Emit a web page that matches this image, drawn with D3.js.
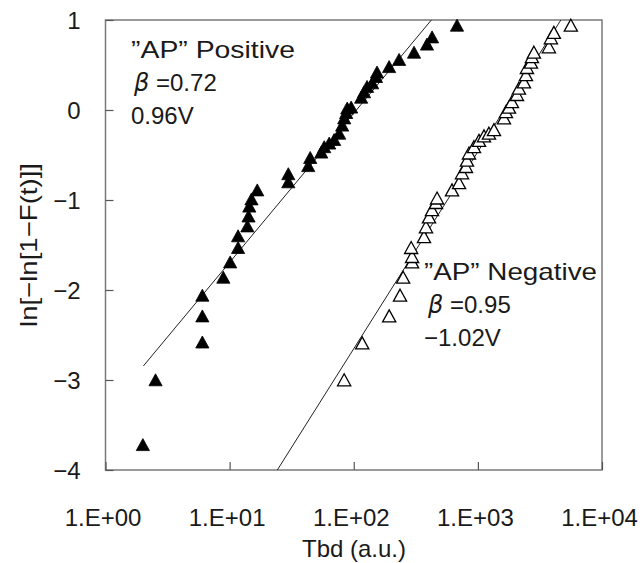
<!DOCTYPE html>
<html>
<head>
<meta charset="utf-8">
<script src="https://cdn.jsdelivr.net/npm/d3@7"></script>
<style>
  html, body { margin: 0; padding: 0; background: #fff; }
  svg text { font-family: "Liberation Sans", Arial, sans-serif; fill: #1a1a1a; }
</style>
</head>
<body>
<svg id="chart" width="643" height="563"></svg>
<script>
// ---------- data ----------
const xTickValues = [1, 10, 100, 1000, 10000];
const xTickLabels = ["1.E+00", "1.E+01", "1.E+02", "1.E+03", "1.E+04"];
const yTickValues = [-4, -3, -2, -1, 0, 1];
const yTickLabels = ["\u22124", "\u22123", "\u22122", "\u22121", "0", "1"];

// "AP" Positive (filled triangles): Tbd, ln[-ln(1-F)]
const posT = [2.0, 2.53, 6.03, 6.03, 6.03, 8.9, 10.1, 11.7, 11.7, 13.9, 14.2, 14.4, 15.0, 16.7,
  29.7, 29.7, 43, 44.6, 54.7, 57.8, 63.4, 69.5, 76.3, 80.7, 83.8, 86.9, 88.6, 95.3,
  114.7, 121, 128, 140.6, 151, 154, 192.7, 231.9, 306, 389, 427.6, 679];
const posY = [-3.72, -3.0, -2.58, -2.29, -2.06, -1.86, -1.69, -1.53, -1.40, -1.29, -1.18, -1.07, -0.99, -0.89,
  -0.80, -0.71, -0.62, -0.53, -0.47, -0.41, -0.37, -0.33, -0.26, -0.17, -0.09, -0.03, 0.02, 0.03,
  0.14, 0.20, 0.26, 0.30, 0.37, 0.42, 0.48, 0.56, 0.64, 0.73, 0.81, 0.94];

// "AP" Negative (open triangles)
const negT = [83.7, 117, 193, 236, 250, 295, 295, 290, 368, 382, 404, 427, 460, 469,
  619, 705, 745, 802, 817, 848, 930, 1021, 1120, 1228, 1348, 1622, 1683, 1780, 1880,
  2064, 2142, 2350, 2439, 2484, 2675, 2725, 2827, 3733, 3874, 4094, 5610];
const negY = [-3.00, -2.59, -2.29, -2.06, -1.86, -1.69, -1.63, -1.53, -1.41, -1.30, -1.19, -1.11, -1.03, -0.98,
  -0.89, -0.81, -0.70, -0.63, -0.56, -0.48, -0.41, -0.34, -0.29, -0.26, -0.22, -0.09, -0.02, 0.03, 0.09,
  0.17, 0.24, 0.31, 0.39, 0.47, 0.53, 0.59, 0.64, 0.70, 0.80, 0.86, 0.94];

// fitted lines: y = a + b*log10(t), t from tStart to where y reaches top
const fitPos = { a: -3.35, b: 1.657, tStart: 2.02 };
const fitNeg = { a: -7.03, b: 2.189, tStart: null };

// ---------- layout ----------
const svg = d3.select("#chart");
const L = 105.5, R = 602, T = 20, B = 470;
const x = d3.scaleLog().domain([1, 10000]).range([L, R]);
const y = d3.scaleLinear().domain([-4, 1]).range([B, T]);

// frame
svg.append("rect").attr("x", L).attr("y", T).attr("width", R - L).attr("height", B - T)
  .attr("fill", "none").attr("stroke", "#7a7a7a").attr("stroke-width", 1.5);

// axes
const xAxis = d3.axisBottom(x).tickValues(xTickValues)
  .tickFormat((d, i) => xTickLabels[i]).tickSize(-8).tickPadding(39);
const gx = svg.append("g").attr("transform", `translate(0,${B})`).call(xAxis);
gx.select(".domain").remove();
gx.selectAll(".tick line").attr("stroke", "#555").attr("stroke-width", 1.2);
gx.selectAll(".tick text").attr("font-size", 24).attr("fill", "#1a1a1a")
  .attr("font-family", "Liberation Sans, Arial, sans-serif").attr("dx", -3);

const yAxis = d3.axisLeft(y).tickValues(yTickValues)
  .tickFormat((d, i) => yTickLabels[i]).tickSize(-8).tickPadding(25);
const gy = svg.append("g").attr("transform", `translate(${L},0)`).call(yAxis);
gy.select(".domain").remove();
gy.selectAll(".tick line").attr("stroke", "#555").attr("stroke-width", 1.2);
gy.selectAll(".tick text").attr("font-size", 24).attr("fill", "#1a1a1a")
  .attr("font-family", "Liberation Sans, Arial, sans-serif").attr("dy", "0.36em");

// axis titles
svg.append("text").attr("x", 354).attr("y", 557).attr("text-anchor", "middle")
  .attr("font-size", 24).text("Tbd (a.u.)");
svg.append("text").attr("transform", "translate(28,245) rotate(-90)")
  .attr("text-anchor", "middle").attr("dominant-baseline", "central")
  .attr("font-size", 24).attr("textLength", 164).attr("lengthAdjust", "spacingAndGlyphs")
  .text("ln[\u2212ln[1\u2212F(t)]]");

// clip
svg.append("clipPath").attr("id", "plotclip").append("rect")
  .attr("x", L).attr("y", T).attr("width", R - L).attr("height", B - T);

// fit lines
function fitSegment(f) {
  const tTop = Math.pow(10, (1 - f.a) / f.b);
  const tBot = f.tStart !== null ? f.tStart : Math.pow(10, (-4 - f.a) / f.b);
  return [tBot, tTop].map(t => ({ t, v: f.a + f.b * Math.log10(t) }));
}
const line = d3.line().x(d => x(d.t)).y(d => y(d.v));
[fitPos, fitNeg].forEach(f => {
  svg.append("path").attr("d", line(fitSegment(f))).attr("fill", "none")
    .attr("stroke", "#222").attr("stroke-width", 1).attr("clip-path", "url(#plotclip)");
});

// markers
const tri = "M0,-6.2L6.6,5.8L-6.6,5.8Z";
svg.append("g").selectAll("path").data(negT.map((t, i) => [t, negY[i]])).join("path")
  .attr("d", tri).attr("transform", d => `translate(${x(d[0])},${y(d[1])})`)
  .attr("fill", "#fff").attr("stroke", "#000").attr("stroke-width", 1.3);
svg.append("g").selectAll("path").data(posT.map((t, i) => [t, posY[i]])).join("path")
  .attr("d", tri).attr("transform", d => `translate(${x(d[0])},${y(d[1])})`)
  .attr("fill", "#000").attr("stroke", "#000").attr("stroke-width", 0.8);

// annotations
function annot(x0, y0, lines) {
  lines.forEach((ln, i) => {
    const t = svg.append("text").attr("x", x0 + (ln.dx || 0)).attr("y", y0 + i * 33).attr("font-size", 24);
    if (ln.beta) {
      t.append("tspan").attr("font-style", "italic").attr("font-family", "DejaVu Sans, sans-serif").text("\u03B2");
      t.append("tspan").text(" =" + ln.text);
    } else {
      t.text(ln.text);
      if (ln.len) t.attr("textLength", ln.len).attr("lengthAdjust", "spacingAndGlyphs");
    }
  });
}
annot(131, 58, [
  { text: "\u201DAP\u201D Positive", len: 164 },
  { text: "0.72", beta: true, dx: 3 },
  { text: "0.96V" }
]);
annot(424, 280, [
  { text: "\u201DAP\u201D Negative", len: 173 },
  { text: "0.95", beta: true, dx: 4 },
  { text: "\u22121.02V" }
]);
</script>
</body>
</html>
